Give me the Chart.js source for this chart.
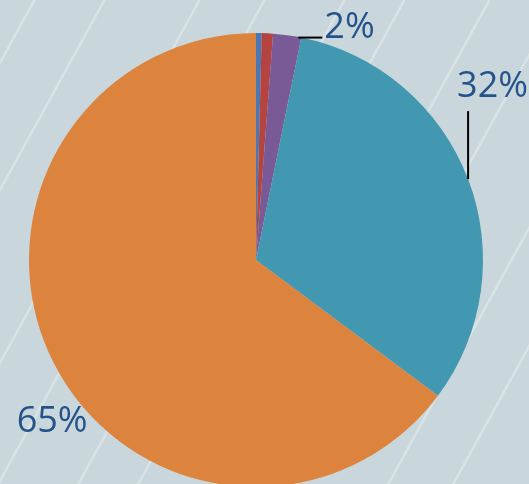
<!DOCTYPE html>
<html>
<head>
<meta charset="utf-8">
<script src="https://cdn.jsdelivr.net/npm/chart.js@4"></script>
<style>
  html, body { margin: 0; padding: 0; overflow: hidden; background: #c9d7dc; }
  #wrap { position: relative; width: 529px; height: 490px; }
</style>
</head>
<body>
<div id="wrap"><canvas id="pie"></canvas></div>
<script>
// slice values, clockwise from 12 o'clock
const categories = ['A', 'B', 'C', 'D', 'E'];
const shares = [0.4, 0.8, 2.0, 32.0, 64.8];
const sliceColors = ['#4a78b4', '#b5433f', '#7a5a96', '#4298b0', '#dc843e'];
// only these slices carry a label
const shownLabels = ['', '', '2%', '32%', '65%'];

// light background with faint diagonal streaks
const backdrop = {
    id: 'backdrop',
    beforeDraw(chart) {
        const ctx = chart.ctx;
        ctx.save();
        ctx.fillStyle = '#c9d7dc';
        ctx.fillRect(0, 0, chart.width, chart.height);
        ctx.strokeStyle = 'rgba(255,255,255,0.3)';
        ctx.lineWidth = 2.5;
        const gaps = [60, 85, 70, 95, 65, 80];
        let x0 = -380, k = 0;
        while (x0 < 700) {
            ctx.beginPath();
            ctx.moveTo(x0, chart.height);
            ctx.lineTo(x0 + chart.height * 0.55, 0);
            ctx.stroke();
            x0 += gaps[k++ % gaps.length];
        }
        ctx.restore();
    }
};

// percentage labels with small leader lines
const pctLabels = {
    id: 'pctLabels',
    afterDatasetsDraw(chart) {
        const ctx = chart.ctx;
        const arcs = chart.getDatasetMeta(0).data;
        ctx.save();
        ctx.font = '36px "Open Sans"';
        ctx.fillStyle = '#25528a';
        ctx.strokeStyle = '#000';
        ctx.lineWidth = 2;
        ctx.textBaseline = 'alphabetic';
        arcs.forEach((arc, i) => {
            const text = shownLabels[i];
            if (!text) return;
            const mid = (arc.startAngle + arc.endAngle) / 2;
            if (i === 2) {
                const ex = arc.x + Math.cos(arc.endAngle) * arc.outerRadius;
                const ey = arc.y + Math.sin(arc.endAngle) * arc.outerRadius;
                ctx.beginPath();
                ctx.moveTo(ex - 3, ey);
                ctx.lineTo(ex + 21, ey);
                ctx.stroke();
                ctx.textAlign = 'left';
                ctx.fillText(text, ex + 23, ey);
            } else if (i === 3) {
                const ex = arc.x + Math.cos(mid) * arc.outerRadius;
                const ey = arc.y + Math.sin(mid) * arc.outerRadius;
                ctx.beginPath();
                ctx.moveTo(ex, ey);
                ctx.lineTo(ex, ey - 68);
                ctx.stroke();
                ctx.textAlign = 'left';
                ctx.fillText(text, ex - 11, ey - 82);
            } else {
                const ex = arc.x + Math.cos(mid) * arc.outerRadius;
                const ey = arc.y + Math.sin(mid) * arc.outerRadius;
                ctx.textAlign = 'center';
                ctx.fillText(text, ex - 1, ey + 70);
            }
        });
        ctx.restore();
    }
};

new Chart(document.getElementById('pie').getContext('2d'), {
    type: 'pie',
    data: {
        labels: categories,
        datasets: [{
            data: shares,
            backgroundColor: sliceColors,
            borderWidth: 0
        }]
    },
    options: {
        responsive: true,
        maintainAspectRatio: false,
        animation: false,
        layout: { padding: { left: 29, right: 46, top: 33, bottom: 3 } },
        plugins: {
            legend: { display: false },
            tooltip: { enabled: false }
        }
    },
    plugins: [backdrop, pctLabels]
});
</script>
</body>
</html>
